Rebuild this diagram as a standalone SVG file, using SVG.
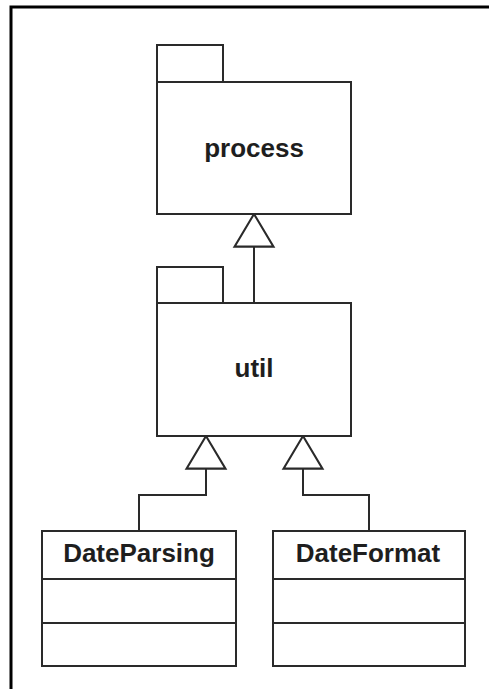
<svg xmlns="http://www.w3.org/2000/svg" width="489" height="689" viewBox="0 0 489 689">
  <style>
    .shape { fill: #ffffff; stroke: #2a2a2a; stroke-width: 2; }
    .line { fill: none; stroke: #2a2a2a; stroke-width: 2; }
    .label { font-family: "Liberation Sans", Arial, sans-serif; font-weight: bold; font-size: 26px; fill: #1e1e1e; text-anchor: middle; }
  </style>
  <defs>
    <!-- hollow triangle for generalization -->
    <marker id="gen" markerUnits="userSpaceOnUse" markerWidth="33" markerHeight="39" viewBox="0 0 31 37" refX="31" refY="18.5" orient="auto" overflow="visible">
      <path d="M0,0 L31,18.5 L0,37 Z" fill="#ffffff" stroke="#2a2a2a" stroke-width="2" stroke-linejoin="miter"/>
    </marker>
  </defs>

  <rect width="489" height="689" fill="#ffffff"/>
  <!-- page frame -->
  <path d="M11,689 V7 H489" fill="none" stroke="#000000" stroke-width="3"/>

  <g id="connectors">
    <path class="line" d="M254,303 V214" marker-end="url(#gen)"/>
    <path class="line" d="M139,531 V495 H206 V436" marker-end="url(#gen)"/>
    <path class="line" d="M369,531 V495 H303 V436" marker-end="url(#gen)"/>
  </g>

  <g id="process">
    <rect class="shape" x="157" y="45" width="66" height="37"/>
    <rect class="shape" x="157" y="82" width="194" height="132"/>
    <text class="label" x="254" y="157">process</text>
  </g>

  <g id="util">
    <rect class="shape" x="157" y="267" width="66" height="36"/>
    <rect class="shape" x="157" y="303" width="194" height="133"/>
    <text class="label" x="254" y="377">util</text>
  </g>

  <g id="DateParsing">
    <rect class="shape" x="42" y="531" width="194" height="135"/>
    <line class="line" x1="42" y1="579" x2="236" y2="579"/>
    <line class="line" x1="42" y1="623" x2="236" y2="623"/>
    <text class="label" x="139" y="562">DateParsing</text>
  </g>

  <g id="DateFormat">
    <rect class="shape" x="273" y="531" width="192" height="135"/>
    <line class="line" x1="273" y1="579" x2="465" y2="579"/>
    <line class="line" x1="273" y1="623" x2="465" y2="623"/>
    <text class="label" x="368" y="562">DateFormat</text>
  </g>
</svg>
